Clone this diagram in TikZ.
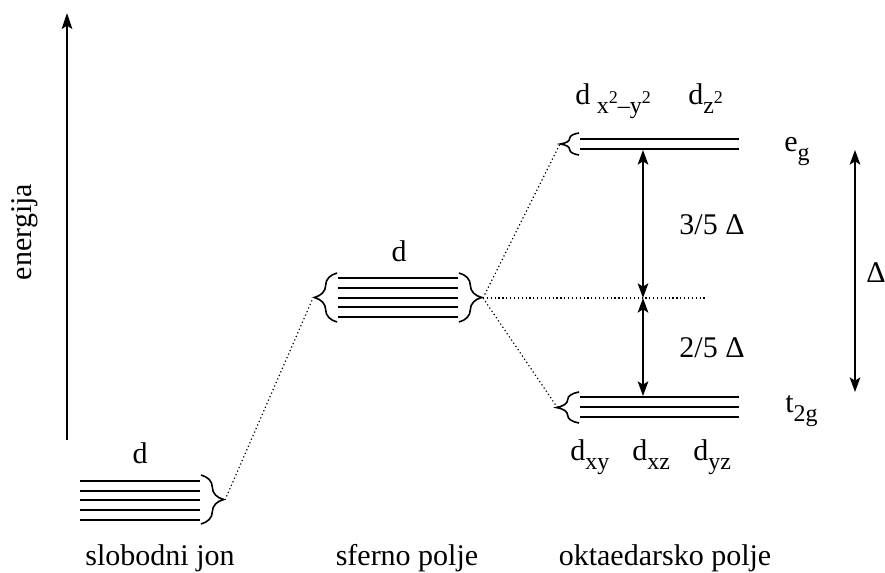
\documentclass[tikz,border=0pt]{standalone}
\usepackage{fontspec}
\setmainfont{Liberation Serif}
\usetikzlibrary{arrows.meta,decorations.pathreplacing}
\newcommand\lsub[1]{\raisebox{-0.3em}{\fontsize{18}{19}\selectfont #1}}
\newcommand\lsup[1]{\raisebox{0.42em}{\fontsize{13.5}{14}\selectfont #1}}
\tikzset{
  levelline/.style={line width=1.6pt},
  bracedraw/.style={decorate, decoration={brace, amplitude=#1, aspect=0.5}, line width=1.2pt},
  conn/.style={dotted, line width=0.9pt},
  dblarrow/.style={{Stealth[length=11pt,width=8pt,inset=2.5pt]}-{Stealth[length=11pt,width=8pt,inset=2.5pt]}, line width=1.2pt},
  lbl/.style={inner sep=0pt, font=\fontsize{22.5}{25}\selectfont},
}
\begin{document}
\begin{tikzpicture}[x=0.75pt,y=-0.75pt]
\useasboundingbox (0,0) rectangle (885,573);

% energy axis
\coordinate (ebot) at (67,440);
\coordinate (etop) at (67,13);
\draw[-{Stealth[length=12pt,width=8pt,inset=2.5pt]}, line width=1.3pt] (ebot) -- (etop);
\node[lbl, rotate=90, anchor=center] (energija) at (25,232) {energija};

% free ion levels
\foreach \y in {481,491,500,510,520} \draw[levelline] (80,\y) -- (200,\y);
\draw[bracedraw=17pt] (201,475) -- (201,524);
\coordinate (freetip) at (225,500);
\node[lbl, anchor=base] (dfree) at (140,463) {d};

% spherical field levels
\foreach \y in {278,288,298,307,317} \draw[levelline] (338,\y) -- (458,\y);
\draw[bracedraw=17pt] (337,322) -- (337,273);
\draw[bracedraw=17pt] (459,273) -- (459,322);
\coordinate (sphL) at (313,298);
\coordinate (sphR) at (483,298);
\node[lbl, anchor=base] (dsph) at (399,262) {d};

% octahedral eg
\foreach \y in {139,149} \draw[levelline] (580,\y) -- (739,\y);
\draw[bracedraw=14pt] (579,155) -- (579,133);
\coordinate (egtip) at (560,144);
% octahedral t2g
\foreach \y in {397,407,417} \draw[levelline] (580,\y) -- (739,\y);
\draw[bracedraw=17pt] (579,423) -- (579,392);
\coordinate (ttip) at (557,407);

% barycenter
\coordinate (bary) at (705,298);
\coordinate (arrtop) at (643,150);
\coordinate (arrmid) at (643,298);
\coordinate (arrbot) at (643,396);

% connectors
\draw[conn] (freetip) -- (sphL);
\draw[conn] (sphR) -- (egtip);
\draw[conn] (sphR) -- (ttip);
\draw[conn] (sphR) -- (bary);

\draw[dblarrow] (arrtop) -- (arrmid);
\draw[dblarrow] (arrmid) -- (arrbot);

\coordinate (Dtop) at (855,150);
\coordinate (Dbot) at (855,392);
\draw[dblarrow] (Dtop) -- (Dbot);

% labels
\node[lbl, anchor=base] (l35) at (712,235) {3/5 Δ};
\node[lbl, anchor=base] (l25) at (712,358) {2/5 Δ};
\node[lbl, anchor=base] (lD) at (876,283) {Δ};

\node[lbl, anchor=base west] (eg) at (784,152) {e\lsub{g}};
\node[lbl, anchor=base west] (t2g) at (785,412) {t\lsub{2g}};

\node[lbl, anchor=base west] (dx2y2) at (575,105) {d\hspace{5pt}\lsub{x\lsup{2}–y\lsup{2}}};
\node[lbl, anchor=base west] (dz2) at (688,105) {d\lsub{z\lsup{2}}};

\node[lbl, anchor=base west] (dxy) at (570,460) {d\lsub{xy}};
\node[lbl, anchor=base west] (dxz) at (632,460) {d\lsub{xz}};
\node[lbl, anchor=base west] (dyz) at (693,460) {d\lsub{yz}};

\node[lbl, anchor=base] (free) at (160,565) {slobodni jon};
\node[lbl, anchor=base] (sfer) at (407,565) {sferno polje};
\node[lbl, anchor=base] (okt) at (665,565) {oktaedarsko polje};
\end{tikzpicture}
\end{document}
